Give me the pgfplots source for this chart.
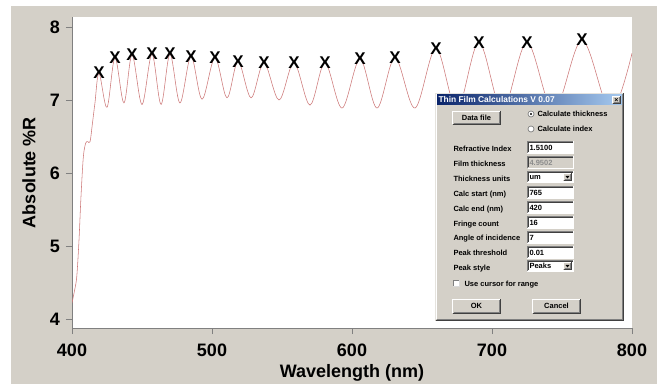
\documentclass[border=0pt]{standalone}
\usepackage{pgfplots}
\pgfplotsset{compat=1.18}
\usepackage{fontspec}
\setmainfont{Liberation Sans}
\definecolor{bggray}{RGB}{212,208,200}
\definecolor{axgray}{RGB}{128,128,128}
\definecolor{curvecol}{RGB}{205,120,120}
\definecolor{tleft}{RGB}{10,36,106}
\definecolor{tright}{RGB}{166,202,240}
\definecolor{dkg}{RGB}{128,128,128}
\definecolor{dkr}{RGB}{64,64,64}

\newcommand\raisedbox[4]{%
  \fill[bggray] (#1,#2) rectangle (#3,#4);
  \draw[white] (#1+0.5,#4-0.5) -- (#1+0.5,#2+0.5) -- (#3-0.5,#2+0.5);
  \draw[dkr] (#1+0.5,#4-0.5) -- (#3-0.5,#4-0.5) -- (#3-0.5,#2+0.5);
  \draw[dkg] (#1+1.5,#4-1.5) -- (#3-1.5,#4-1.5) -- (#3-1.5,#2+1.5);
}
\newcommand\sunkenbox[5]{%
  \fill[#5] (#1,#2) rectangle (#3,#4);
  \draw[dkg] (#1+0.5,#4-0.5) -- (#1+0.5,#2+0.5) -- (#3-0.5,#2+0.5);
  \draw[dkr] (#1+1.5,#4-1.5) -- (#1+1.5,#2+1.5) -- (#3-1.5,#2+1.5);
  \draw[white] (#1+0.5,#4-0.5) -- (#3-0.5,#4-0.5) -- (#3-0.5,#2+0.5);
}

\begin{document}
\begin{tikzpicture}
\useasboundingbox (0,0) rectangle (657bp,384bp);
\fill[white] (0,0) rectangle (657bp,384bp);
\fill[bggray] (11bp,0) rectangle (657bp,378bp);
\begin{axis}[
  at={(72bp,56bp)}, anchor=south west,
  scale only axis, width=560bp, height=311bp,
  xmin=400, xmax=800, ymin=3.877, ymax=8.137,
  axis x line*=bottom, axis y line*=left,
  axis line style={-, draw=axgray, line width=0.9bp},
  axis background/.style={fill=white},
  xtick={400,500,600,700,800}, ytick={4,5,6,7,8},
  minor tick num=0,
  tick align=outside, major tick length=6bp,
  tick style={draw=axgray, line width=0.9bp},
  /pgf/number format/assume math mode=true,
  tick label style={font=\fontsize{18bp}{20bp}\selectfont\bfseries, black},
  xticklabel style={anchor=base, inner sep=0pt, yshift=-22.5bp},
  yticklabel style={anchor=east, inner sep=0pt, xshift=-6bp},
  xlabel={Wavelength (nm)}, ylabel={Absolute \%R},
  label style={font=\fontsize{18bp}{20bp}\selectfont\bfseries, black},
  xlabel style={at={(axis description cs:0.5,-0.1576)}, anchor=base, inner sep=0pt},
  ylabel style={at={(axis description cs:-0.0768,0.5)}, anchor=center, inner sep=0pt},
]
\addplot[curvecol, line width=0.55bp, smooth, tension=0.55, mark=none] coordinates {
(400,4.22) (401.7,4.38) (403.4,4.58) (405,5.08) (406.4,5.67) (408.1,6.22)
(409.8,6.41) (411.3,6.43) (412.9,6.43) (414.6,6.68) (416.4,6.96) (419.3,7.37)
(425.0,6.90) (430.7,7.58) (437.1,6.96) (442.9,7.62) (450.0,6.94) (457.1,7.63)
(463.6,6.94) (470.0,7.63) (477.1,6.96) (485.0,7.60) (492.9,7.01) (502.1,7.58)
(510.7,7.03) (518.6,7.53) (527.9,7.03) (537.1,7.51) (547.9,7.00) (558.6,7.51)
(570.0,6.93) (580.7,7.51) (592.9,6.89) (605.7,7.56) (617.9,6.89) (630.7,7.58)
(645.0,6.89) (660.0,7.71) (675.0,6.87) (690.7,7.79) (707.4,6.86) (725.0,7.79)
(744.1,6.85) (764.3,7.82) (784.5,6.85) (800,7.64)
};
\addplot[black, only marks, mark=text, text mark={X}, text mark as node=true,
  text mark style={font=\fontsize{17bp}{17bp}\selectfont\bfseries, inner sep=0pt, anchor=center, black}]
  coordinates {
(419.3,7.37) (430.7,7.58) (442.9,7.62) (457.1,7.63) (470.0,7.63) (485.0,7.60)
(502.1,7.58) (518.6,7.53) (537.1,7.51) (558.6,7.51) (580.7,7.51) (605.7,7.56)
(630.7,7.58) (660.0,7.71) (690.7,7.79) (725.0,7.79) (764.3,7.82)
};
\end{axis}

% ---- dialog overlay (image pixel coordinates, y downwards) ----
\begin{scope}[shift={(0,384bp)}, x=1bp, y=-1bp, line width=1bp,
  every node/.style={inner sep=0pt, font=\fontsize{7.5bp}{9bp}\selectfont\bfseries}]
  \fill[bggray] (435,93) rectangle (624,321);
  \draw[bggray!60!white] (435.5,320.5) -- (435.5,93.5) -- (623.5,93.5);
  \draw[white] (436.5,319.5) -- (436.5,94.5) -- (622.5,94.5);
  \draw[dkr] (435.5,320.5) -- (623.5,320.5) -- (623.5,93.5);
  \draw[dkg] (436.5,319.5) -- (622.5,319.5) -- (622.5,94.5);
  % title bar
  \shade[left color=tleft, right color=tright] (437,95) rectangle (622,105);
  \node[anchor=base west, white, font=\fontsize{8.4bp}{9bp}\selectfont\bfseries] at (438,103) {Thin Film Calculations V 0.07};
  \raisedbox{612}{96}{621}{104}
  \node[font=\fontsize{7bp}{7bp}\selectfont\bfseries] at (616.5,100) {×};
  % Data file button
  \raisedbox{452}{111}{501}{125}
  \node[anchor=base] at (476.5,120.5) {Data file};
  % radio buttons
  \fill[white] (531,114) circle (3);
  \draw[dkg, line width=0.7bp] (531,114) circle (3);
  \fill[black] (531,114) circle (1.2);
  \node[anchor=base west] at (537,117) {Calculate thickness};
  \fill[white] (531,129) circle (3);
  \draw[dkg, line width=0.7bp] (531,129) circle (3);
  \node[anchor=base west] at (537,132) {Calculate index};
  % labels
  \node[anchor=base west] at (453,152) {Refractive Index};
  \node[anchor=base west] at (453,167) {Film thickness};
  \node[anchor=base west] at (453,182) {Thickness units};
  \node[anchor=base west] at (453,197) {Calc start (nm)};
  \node[anchor=base west] at (453,212) {Calc end (nm)};
  \node[anchor=base west] at (453,227) {Fringe count};
  \node[anchor=base west] at (453,241) {Angle of incidence};
  \node[anchor=base west] at (453,256) {Peak threshold};
  \node[anchor=base west] at (453,271) {Peak style};
  % fields
  \sunkenbox{527}{141}{574}{154}{white}
  \node[anchor=base west] at (529,150.5) {1.5100};
  \sunkenbox{527}{156}{574}{169}{bggray}
  \node[anchor=base west, black!45] at (529,165.5) {4.9502};
  \sunkenbox{527}{171}{574}{183}{white}
  \node[anchor=base west] at (529,180) {um};
  \raisedbox{563}{173}{572}{181}
  \fill[black] (565.5,176) -- (569.5,176) -- (567.5,178.5) -- cycle;
  \sunkenbox{527}{186}{574}{199}{white}
  \node[anchor=base west] at (529,195.5) {765};
  \sunkenbox{527}{201}{574}{214}{white}
  \node[anchor=base west] at (529,210.5) {420};
  \sunkenbox{527}{216}{574}{229}{white}
  \node[anchor=base west] at (529,225.5) {16};
  \sunkenbox{527}{231}{574}{244}{white}
  \node[anchor=base west] at (529,240.5) {7};
  \sunkenbox{527}{246}{574}{259}{white}
  \node[anchor=base west] at (529,255.5) {0.01};
  \sunkenbox{527}{260}{574}{272}{white}
  \node[anchor=base west] at (529,269) {Peaks};
  \raisedbox{563}{262}{572}{270}
  \fill[black] (565.5,265) -- (569.5,265) -- (567.5,267.5) -- cycle;
  % checkbox (empty)
  \fill[white] (453,280) rectangle (460,287);
  \draw[dkg, line width=0.8bp] (453.4,286.6) -- (453.4,280.4) -- (459.6,280.4);
  \draw[white!85!black, line width=0.6bp] (453.4,286.6) -- (459.6,286.6) -- (459.6,280.4);
  \node[anchor=base west] at (464,287) {Use cursor for range};
  % OK / Cancel
  \raisedbox{452}{299}{501}{314}
  \node[anchor=base] at (476.5,309) {OK};
  \raisedbox{532}{299}{581}{314}
  \node[anchor=base] at (556.5,309) {Cancel};
\end{scope}
\end{tikzpicture}
\end{document}
